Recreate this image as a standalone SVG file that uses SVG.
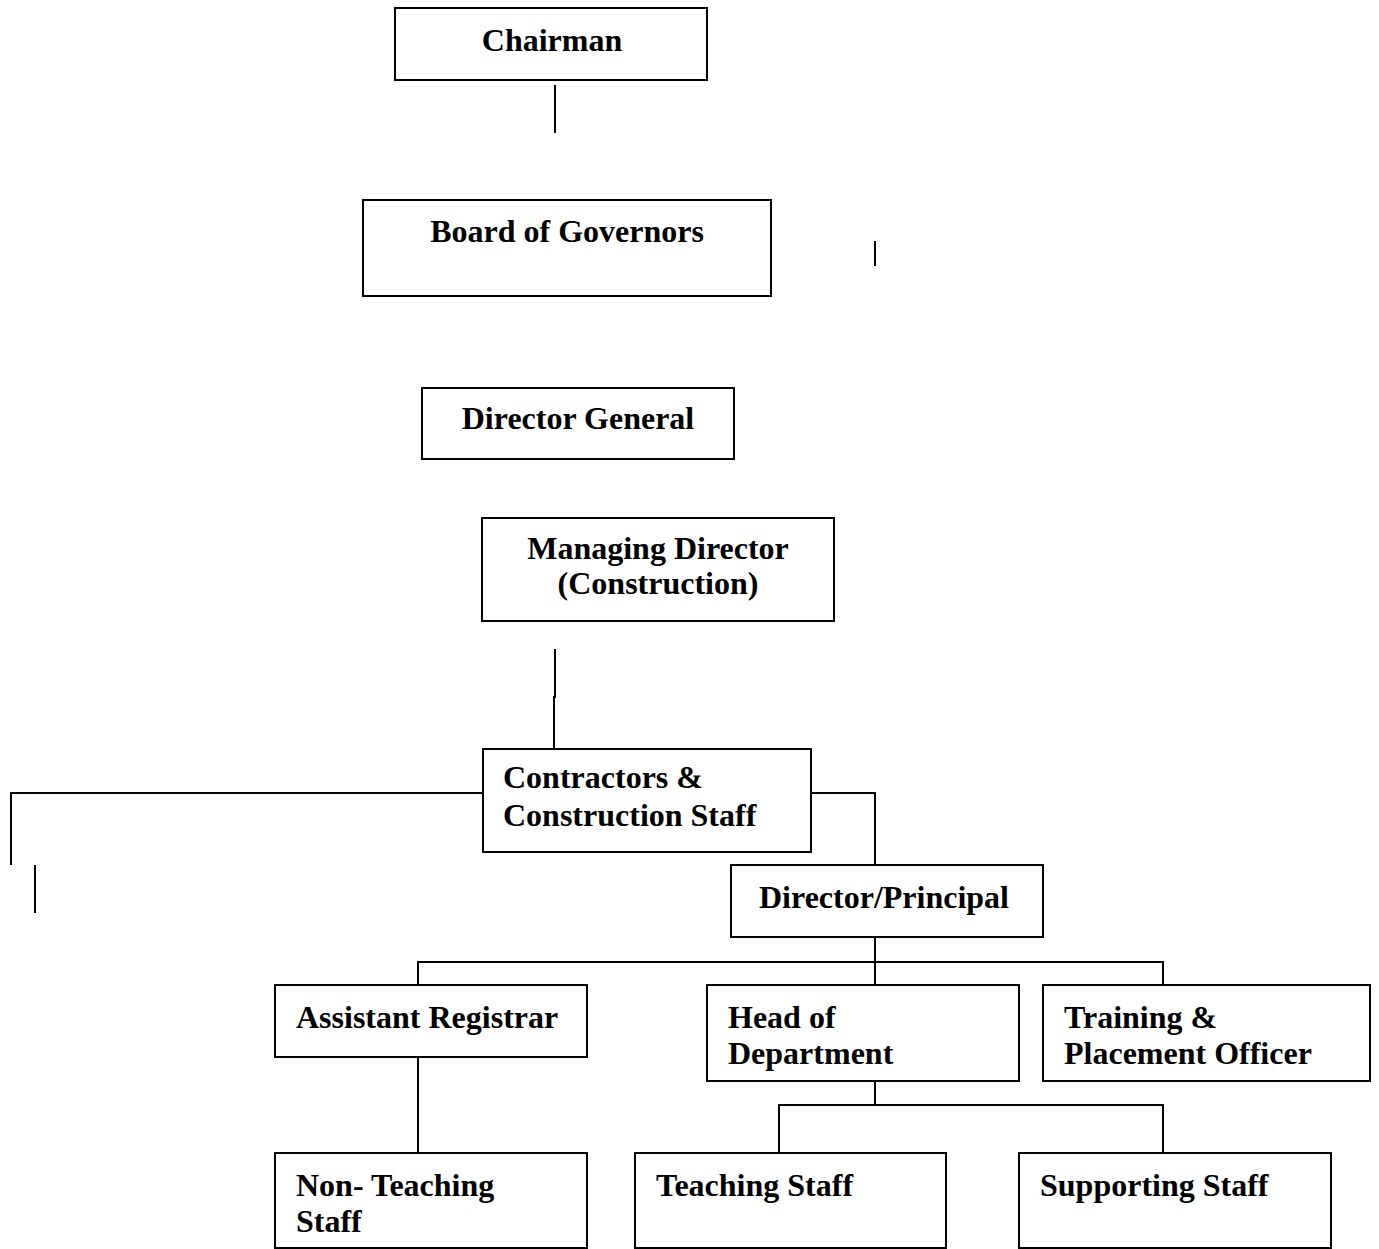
<svg xmlns="http://www.w3.org/2000/svg" width="1379" height="1249" viewBox="0 0 1379 1249">
<style>
.box{fill:#fff;stroke:#000;stroke-width:2}
.ln{fill:none;stroke:#000;stroke-width:2}
text{font-family:"Liberation Serif","Times New Roman",serif;font-weight:bold;font-size:32px;fill:#000}
.c{text-anchor:middle}
</style>
<rect width="1379" height="1249" fill="#fff"/>
<g id="connectors">
<line class="ln" x1="555" y1="85" x2="555" y2="133"/>
<line class="ln" x1="875" y1="241" x2="875" y2="266"/>
<polyline class="ln" points="555,649 555,697 554,697 554,749"/>
<polyline class="ln" points="483,793 11,793 11,865"/>
<line class="ln" x1="35" y1="865" x2="35" y2="913"/>
<polyline class="ln" points="811,793 875,793 875,865"/>
<line class="ln" x1="875" y1="937" x2="875" y2="985"/>
<polyline class="ln" points="418,985 418,962 1163,962 1163,985"/>
<line class="ln" x1="418" y1="1057" x2="418" y2="1153"/>
<line class="ln" x1="875" y1="1081" x2="875" y2="1105"/>
<polyline class="ln" points="779,1153 779,1105 1163,1105 1163,1153"/>
</g>
<g id="chairman"><rect class="box" x="395" y="8" width="312" height="72"/><text class="c" x="552" y="51">Chairman</text></g>
<g id="board"><rect class="box" x="363" y="200" width="408" height="96"/><text class="c" x="567" y="242">Board of Governors</text></g>
<g id="dg"><rect class="box" x="422" y="388" width="312" height="71"/><text class="c" x="578" y="429">Director General</text></g>
<g id="md"><rect class="box" x="482" y="518" width="352" height="103"/><text class="c" x="658" y="559">Managing Director</text><text class="c" x="658" y="594">(Construction)</text></g>
<g id="contractors"><rect class="box" x="483" y="749" width="328" height="103"/><text x="503" y="788">Contractors &amp;</text><text x="503" y="826">Construction Staff</text></g>
<g id="principal"><rect class="box" x="731" y="865" width="312" height="72"/><text x="759" y="908">Director/Principal</text></g>
<g id="registrar"><rect class="box" x="275" y="985" width="312" height="72"/><text x="296" y="1028">Assistant Registrar</text></g>
<g id="hod"><rect class="box" x="707" y="985" width="312" height="96"/><text x="728" y="1028">Head of</text><text x="728" y="1064">Department</text></g>
<g id="tpo"><rect class="box" x="1043" y="985" width="327" height="96"/><text x="1064" y="1028">Training &amp;</text><text x="1064" y="1064">Placement Officer</text></g>
<g id="nonteaching"><rect class="box" x="275" y="1153" width="312" height="95"/><text x="296" y="1196">Non- Teaching</text><text x="296" y="1232">Staff</text></g>
<g id="teaching"><rect class="box" x="635" y="1153" width="311" height="95"/><text x="656" y="1196">Teaching Staff</text></g>
<g id="supporting"><rect class="box" x="1019" y="1153" width="312" height="95"/><text x="1040" y="1196">Supporting Staff</text></g>
</svg>
